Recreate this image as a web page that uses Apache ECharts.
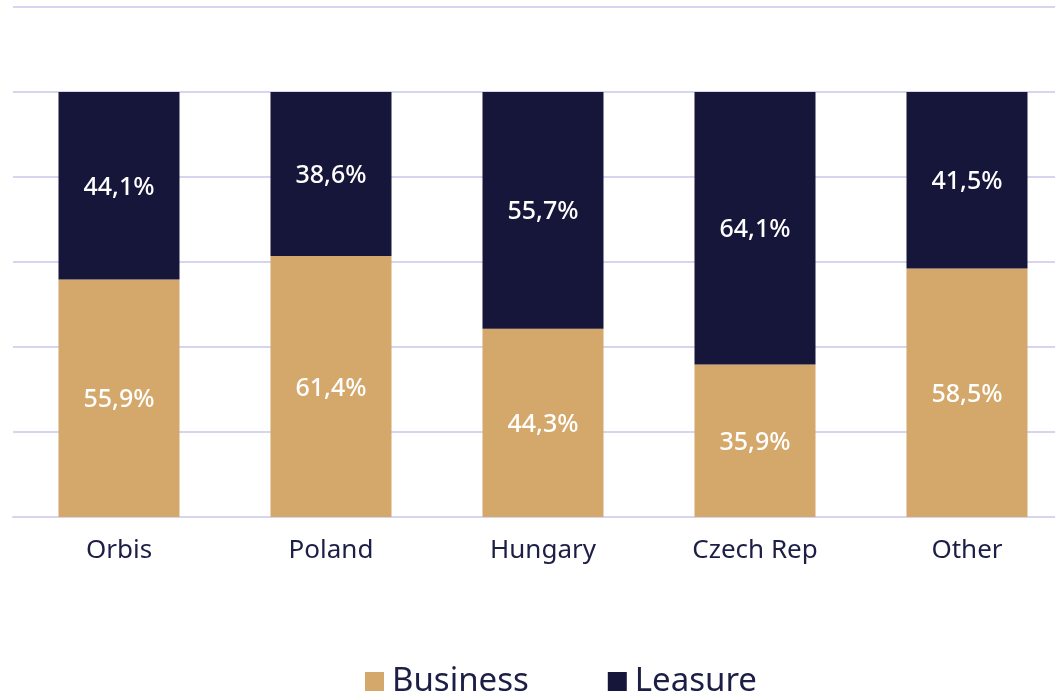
<!DOCTYPE html>
<html>
<head>
<meta charset="utf-8">
<script src="https://cdn.jsdelivr.net/npm/echarts@6/dist/echarts.min.js"></script>
<style>
html,body{margin:0;padding:0;background:#fff;overflow:hidden;}
#c{width:1075px;height:696px;}
</style>
</head>
<body>
<div id="c"></div>
<script>
const categories = ['Orbis', 'Poland', 'Hungary', 'Czech Rep', 'Other'];
const business = [55.9, 61.4, 44.3, 35.9, 58.5];
const leasure = [44.1, 38.6, 55.7, 64.1, 41.5];
const seriesNames = ['Business', 'Leasure'];

const FONT = '"Noto Sans", sans-serif';
const fmt = p => p.value.toFixed(1).replace('.', ',') + '%';

const chart = echarts.init(document.getElementById('c'));
chart.setOption({
  animation: false,
  backgroundColor: '#ffffff',
  grid: { left: 13, right: 2, top: 7, bottom: 179, containLabel: false },
  legend: {
    data: seriesNames,
    top: 660,
    left: 360,
    itemWidth: 19,
    itemHeight: 19,
    itemGap: 79,
    icon: 'rect',
    textStyle: { fontFamily: FONT, fontSize: 33, color: '#1c1e45', padding: [0, 0, 0, 3] }
  },
  xAxis: {
    type: 'category',
    data: categories,
    axisLine: { lineStyle: { color: '#d6d4ee', width: 2 } },
    axisTick: { show: false },
    axisLabel: { fontFamily: FONT, fontSize: 26, color: '#1c1e45', margin: 21 }
  },
  yAxis: {
    type: 'value',
    min: 0,
    max: 120,
    interval: 20,
    axisLabel: { show: false },
    axisLine: { show: false },
    axisTick: { show: false },
    splitLine: { lineStyle: { color: '#d6d4ee', width: 2 } }
  },
  series: [
    {
      name: seriesNames[0],
      type: 'bar',
      stack: 'total',
      data: business,
      barWidth: 121,
      itemStyle: { color: '#d4a76a' },
      label: { show: true, position: 'inside', offset: [0, 2], formatter: fmt, color: '#ffffff', fontFamily: FONT, fontSize: 25, fontWeight: 500 }
    },
    {
      name: seriesNames[1],
      type: 'bar',
      stack: 'total',
      data: leasure,
      barWidth: 121,
      itemStyle: { color: '#16163a' },
      label: { show: true, position: 'inside', offset: [0, 2], formatter: fmt, color: '#ffffff', fontFamily: FONT, fontSize: 25, fontWeight: 500 }
    }
  ]
});
</script>
</body>
</html>
